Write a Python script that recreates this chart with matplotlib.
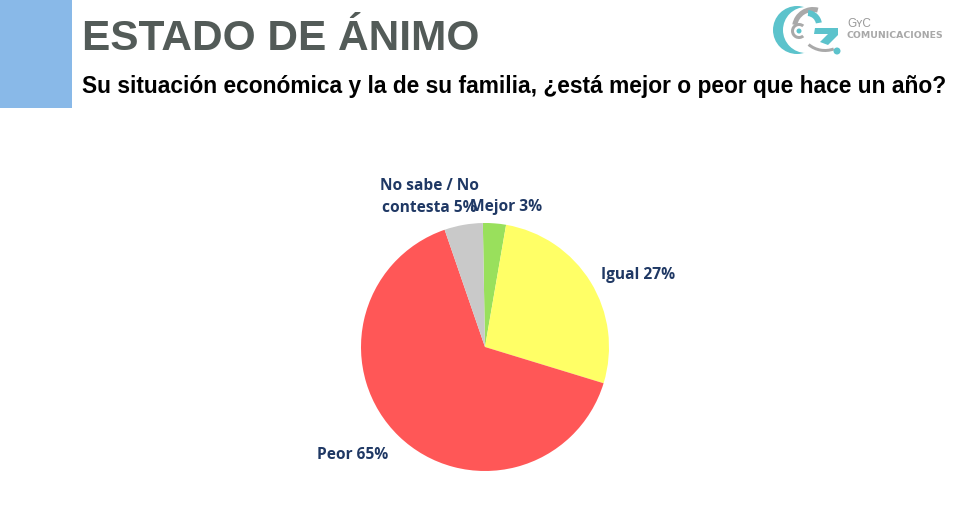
import matplotlib
matplotlib.use('Agg')
import matplotlib.pyplot as plt
from matplotlib.patches import Rectangle, Wedge, Circle, Polygon

W, H = 962, 513

# pie values, clockwise from the top
labels = ['Mejor 3%', 'Igual 27%', 'Peor 65%', 'No sabe / No\ncontesta 5%']
values = [3, 27, 65, 5]
colors = ['#99E05C', '#FFFF66', '#FF5757', '#C9C9C9']

title = 'ESTADO DE ÁNIMO'
subtitle = 'Su situación económica y la de su familia, ¿está mejor o peor que hace un año?'

fig = plt.figure(figsize=(W / 100, H / 100), dpi=100, facecolor='white')

# background layer in pixel coordinates, y going down
bg = fig.add_axes([0, 0, 1, 1])
bg.set_xlim(0, W)
bg.set_ylim(H, 0)
bg.axis('off')

# blue block on the left
bg.add_patch(Rectangle((0, 0), 72, 108, color='#89B9E8', lw=0))

bg.text(82, 39, title, fontsize=30.5, fontweight='bold', family='Liberation Sans',
        color='#535B58', va='center', ha='left')
bg.text(82, 87, subtitle, fontsize=16.35, fontweight='bold', family='Liberation Sans',
        color='black', va='center', ha='left')

# logo
teal = '#5CC3CC'
grey = '#A9A9A9'
# big crescent, a teal disc with a white one over it
bg.add_patch(Circle((797, 30), 24, color=teal, lw=0))
bg.add_patch(Circle((806, 30), 23, color='white', lw=0))
bg.add_patch(Wedge((813, 28), 21, 190, 285, width=5, color=grey, lw=0))
bg.add_patch(Wedge((825, 25), 27, 70, 130, width=3, color=grey, lw=0))
bg.add_patch(Wedge((799, 31), 8, 50, 310, width=3, color=grey, lw=0))
bg.add_patch(Circle((799, 31), 2.5, color=teal, lw=0))
bg.add_patch(Wedge((807, 25), 15, 275, 350, width=6, color=teal, lw=0))
bg.add_patch(Polygon([(815, 28), (838, 28), (838, 35), (828, 45), (820, 42), (828, 34), (814, 34)],
                     color=teal, lw=0))
bg.add_patch(Circle((837, 51), 3.5, color=teal, lw=0))
bg.text(847, 24, 'GʏC', fontsize=8.5, family='Liberation Sans', color='#9A9A9A',
        va='center', ha='left')
bg.text(847, 36, 'COMUNICACIONES', fontsize=6.75, fontweight='bold', family='DejaVu Sans',
        color='#A8A8A8', va='center', ha='left')

# pie, left 361 top 223 size 248 px
ax = fig.add_axes([361 / W, 1 - 471 / H, 248 / W, 248 / H])
ax.pie(values, colors=colors, startangle=91, counterclock=False, radius=1,
       wedgeprops={'linewidth': 0})
ax.set_xlim(-1, 1)
ax.set_ylim(-1, 1)

# data labels
label_pos = [(506, 207), (638, 275), (353, 455), (429, 197)]
for lab, (x, y) in zip(labels, label_pos):
    bg.text(x, y, lab, fontsize=11.2, fontweight='bold', family='Open Sans',
            color='#1F3864', ha='center', va='center', linespacing=1.55)

fig.savefig('out.png', dpi=100)
